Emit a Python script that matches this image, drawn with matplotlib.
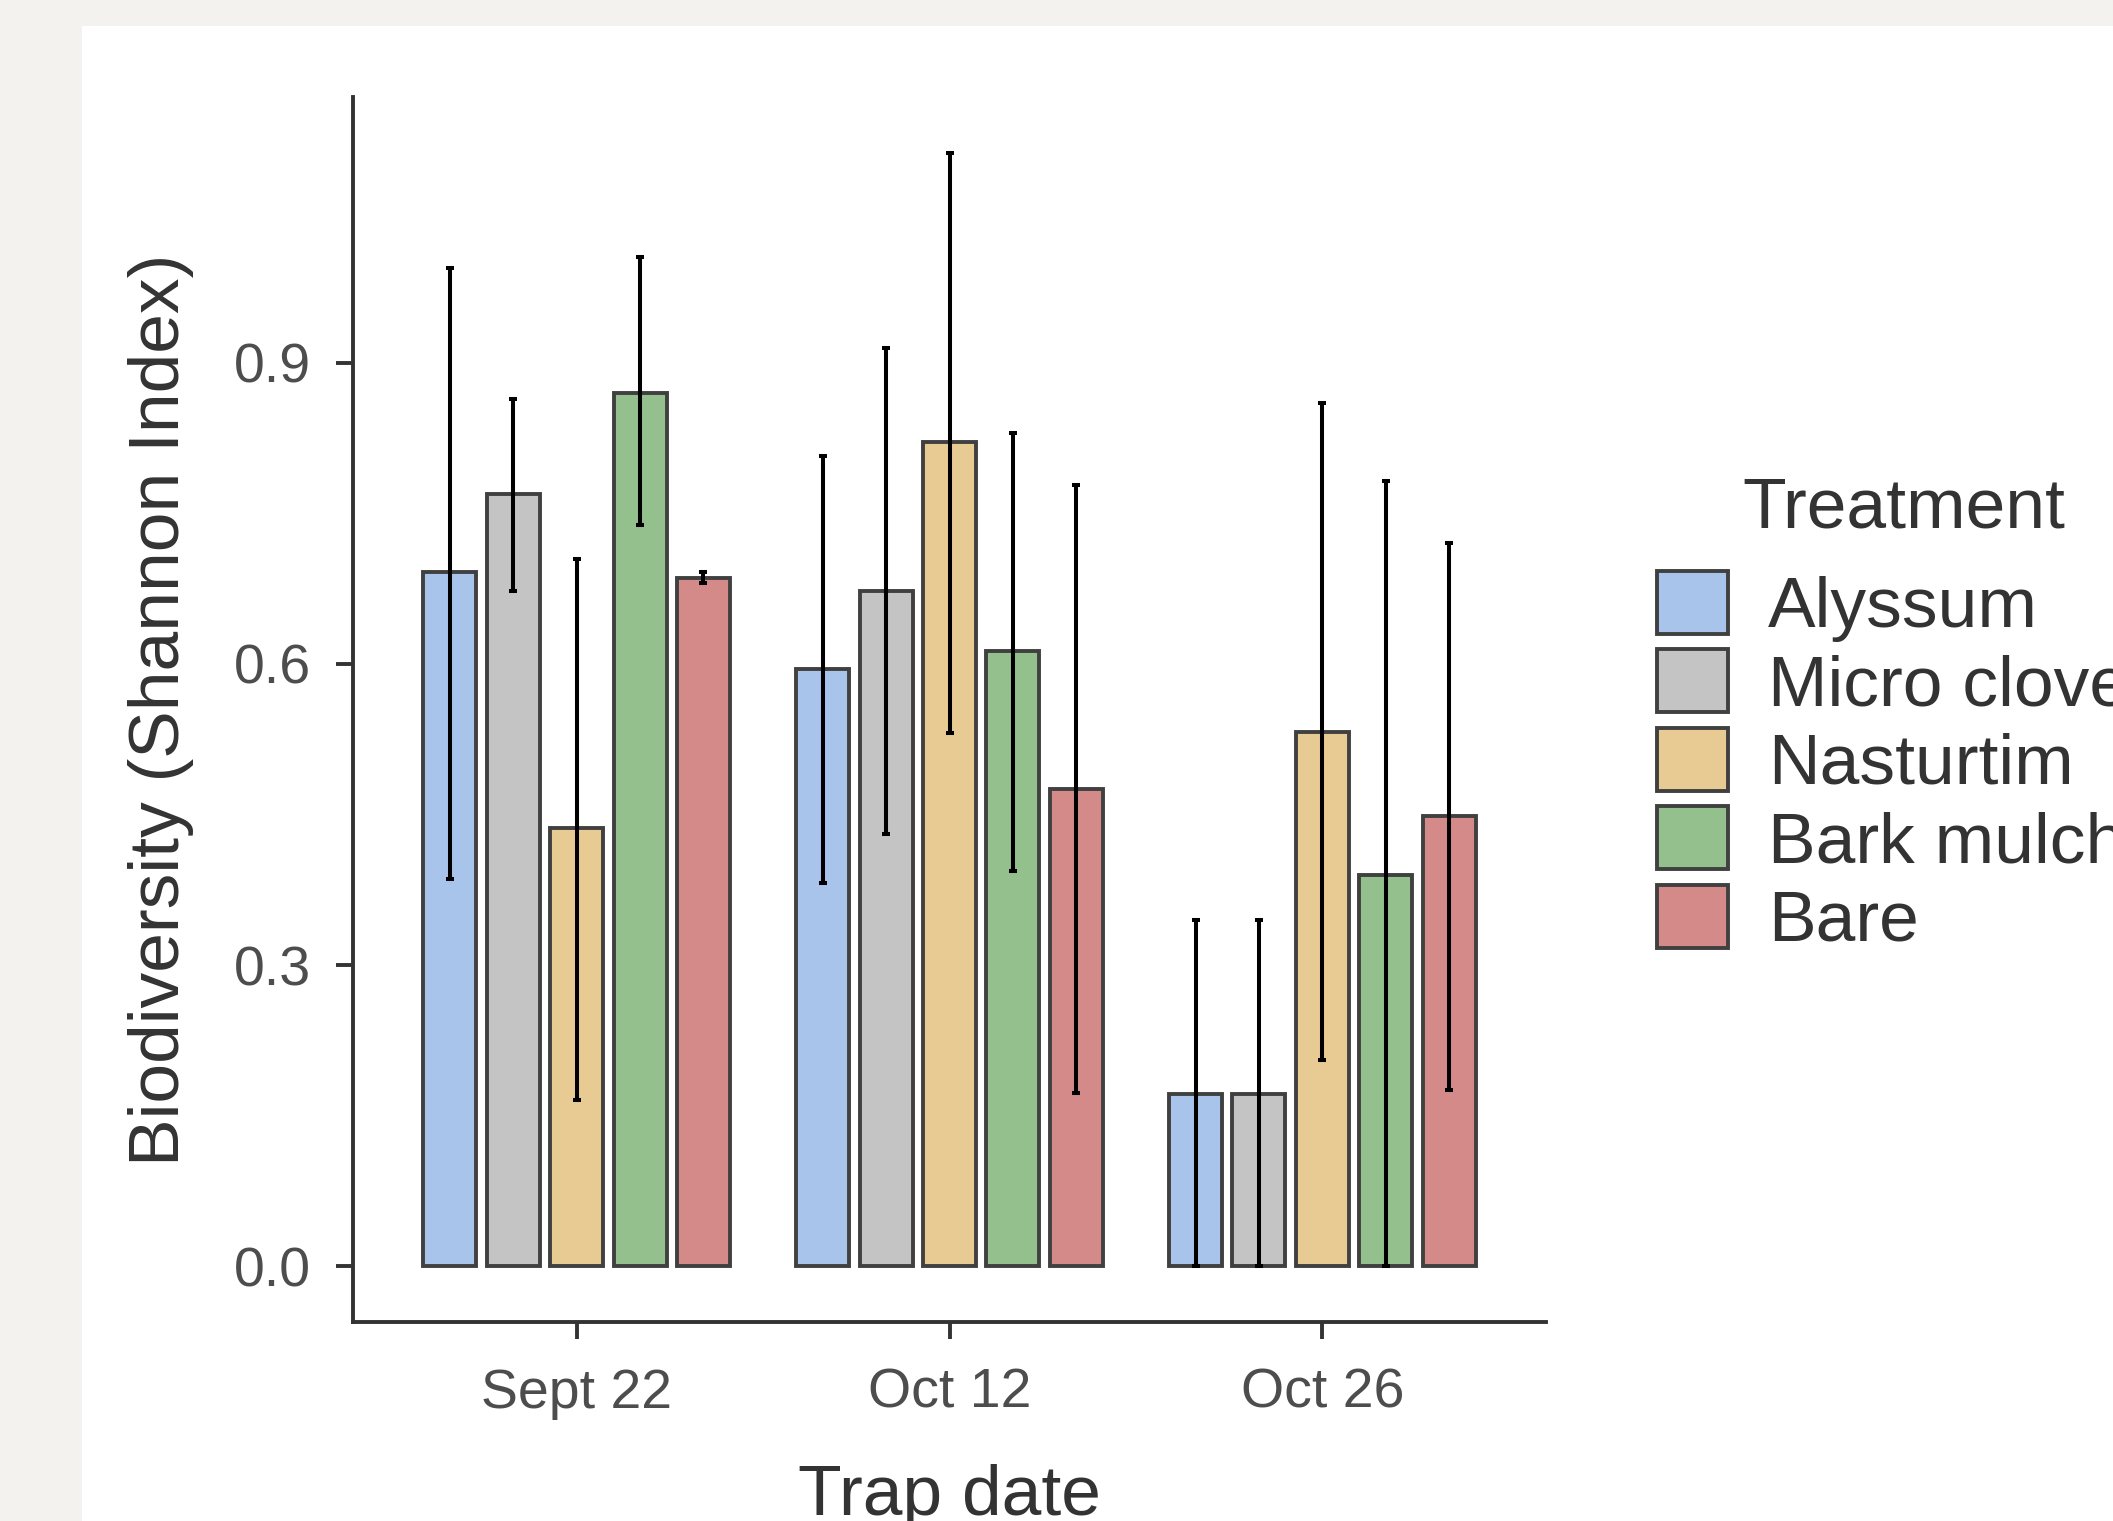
import matplotlib
matplotlib.use("Agg")
import matplotlib.pyplot as plt
import numpy as np
from matplotlib.patches import Patch, Rectangle

dates = ["Sept 22", "Oct 12", "Oct 26"]
treatments = ["Alyssum", "Micro clover", "Nasturtim", "Bark mulch", "Bare"]
colors = ["#A9C4EB", "#C4C4C4", "#E8CB93", "#93C08D", "#D48A89"]

# mean Shannon index per treatment, one value per trap date
mean_alyssum = [0.691, 0.595, 0.172]
mean_clover = [0.769, 0.673, 0.172]
mean_nasturtim = [0.436, 0.821, 0.532]
mean_bark = [0.870, 0.613, 0.390]
mean_bare = [0.685, 0.475, 0.448]

# error bar ends (lower, upper)
low_alyssum = [0.386, 0.382, 0.0]
high_alyssum = [0.994, 0.807, 0.345]
low_clover = [0.673, 0.431, 0.0]
high_clover = [0.864, 0.915, 0.345]
low_nasturtim = [0.166, 0.531, 0.205]
high_nasturtim = [0.704, 1.109, 0.860]
low_bark = [0.738, 0.394, 0.0]
high_bark = [1.005, 0.830, 0.782]
low_bare = [0.680, 0.173, 0.176]
high_bare = [0.691, 0.778, 0.720]

means = [mean_alyssum, mean_clover, mean_nasturtim, mean_bark, mean_bare]
lows = [low_alyssum, low_clover, low_nasturtim, low_bark, low_bare]
highs = [high_alyssum, high_clover, high_nasturtim, high_bark, high_bare]

W, H, DPI = 2113, 1521, 200
plt.rcParams["font.family"] = ["Liberation Sans", "DejaVu Sans"]

fig = plt.figure(figsize=(W / DPI, H / DPI), dpi=DPI)
fig.patch.set_facecolor("#F3F2EE")
fig.add_artist(Rectangle((82 / W, 0), 1, 1 - 26 / H, transform=fig.transFigure,
                         facecolor="white", edgecolor="none", zorder=-1))

ax = fig.add_axes([353 / W, 199 / H, (1546 - 353) / W, (1322 - 97) / H])
ax.set_facecolor("white")

x = np.arange(len(dates))
step, width = 0.17, 0.142
edge = "#404040"
for j, (name, col) in enumerate(zip(treatments, colors)):
    xs = x + (j - 2) * step
    m = np.array(means[j])
    ax.bar(xs, m, width=width, color=col, edgecolor=edge, linewidth=1.4, zorder=2)
    yerr = np.vstack([m - np.array(lows[j]), np.array(highs[j]) - m])
    ax.errorbar(xs, m, yerr=yerr, fmt="none", ecolor="black", elinewidth=1.45,
                capsize=1.5, capthick=1.45, zorder=3)

ax.set_xlim(-0.6, 2.6)
ax.set_ylim(-0.0555, 1.1645)
ax.set_xticks(x)
ax.set_xticklabels(dates)
ax.set_yticks([0, 0.3, 0.6, 0.9])
ax.set_yticklabels(["0.0", "0.3", "0.6", "0.9"])

for s in ["top", "right"]:
    ax.spines[s].set_visible(False)
for s in ["left", "bottom"]:
    ax.spines[s].set_color("#333333")
    ax.spines[s].set_linewidth(1.4)
ax.tick_params(length=6, width=1.4, color="#333333", labelsize=20,
               labelcolor="#4D4D4D")
ax.tick_params(axis="x", pad=10.5)
ax.tick_params(axis="y", pad=9)

ax.set_ylabel("Biodiversity (Shannon Index)", fontsize=25.7, color="#333333",
              labelpad=14.5)
ax.set_xlabel("Trap date", fontsize=25.7, color="#333333", labelpad=16)

fig.text(1742 / W, (H - 528) / H, "Treatment", fontsize=25.7, color="#333333",
         ha="left", va="baseline")

handles = [Patch(facecolor=c, edgecolor=edge, linewidth=1.4) for c in colors]
leg = fig.legend(handles, treatments, loc="upper left",
                 bbox_to_anchor=(1657 / W, (H - 571) / H), frameon=False,
                 fontsize=25.7, borderpad=0, borderaxespad=0,
                 handlelength=1.0, handleheight=0.98, labelspacing=0.105,
                 handletextpad=0.55)
for t in leg.get_texts():
    t.set_color("#333333")

fig.savefig("out.png", dpi=DPI, facecolor=fig.get_facecolor())
